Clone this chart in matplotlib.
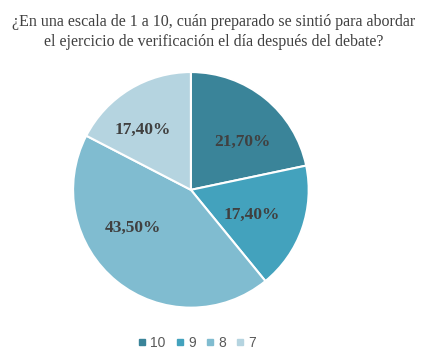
import matplotlib.pyplot as plt
from matplotlib.lines import Line2D
import numpy as np

labels = ['10', '9', '8', '7']
values = [21.7, 17.4, 43.5, 17.4]
pct_text = ['21,70%', '17,40%', '43,50%', '17,40%']
colors = ['#3A8499', '#43A2BD', '#80BCD0', '#B5D4E0']
# label placement (fraction of radius, angle in degrees) as Excel placed them
label_r = [0.60, 0.56, 0.59, 0.65]
label_ang = [43, -22, 213, 129]

title = ('¿En una escala de 1 a 10, cuán preparado se sintió para abordar\n'
         'el ejercicio de verificación el día después del debate?')

fig = plt.figure(figsize=(4.28, 3.63), dpi=100)
ax = fig.add_axes([0.168, 0.149, 0.556, 0.656])

wedges, _ = ax.pie(values, colors=colors, startangle=90, counterclock=False,
                   wedgeprops=dict(edgecolor='white', linewidth=1.5))
ax.set_xlim(-1.01, 1.01)
ax.set_ylim(-1.01, 1.01)
ax.set_aspect('equal')

for t, r, a in zip(pct_text, label_r, label_ang):
    ang = np.deg2rad(a)
    ax.text(r * np.cos(ang), r * np.sin(ang), t, ha='center', va='center',
            fontsize=12.5, fontweight='bold', color='#404040',
            family='Liberation Serif')

fig.text(0.5, 0.912, title, ha='center', va='center', fontsize=11.5,
         color='#404040', family='Liberation Serif', linespacing=1.4)

handles = [Line2D([], [], marker='s', linestyle='', markersize=5,
                  markerfacecolor=c, markeredgecolor=c) for c in colors]
fig.legend(handles, labels, loc='center', bbox_to_anchor=(0.455, 0.055), ncol=4,
           frameon=False, handletextpad=0.0, columnspacing=0.4, handlelength=1.2,
           prop=dict(family='Liberation Sans', size=10), labelcolor='#595959')

fig.savefig('out.png', dpi=100)
